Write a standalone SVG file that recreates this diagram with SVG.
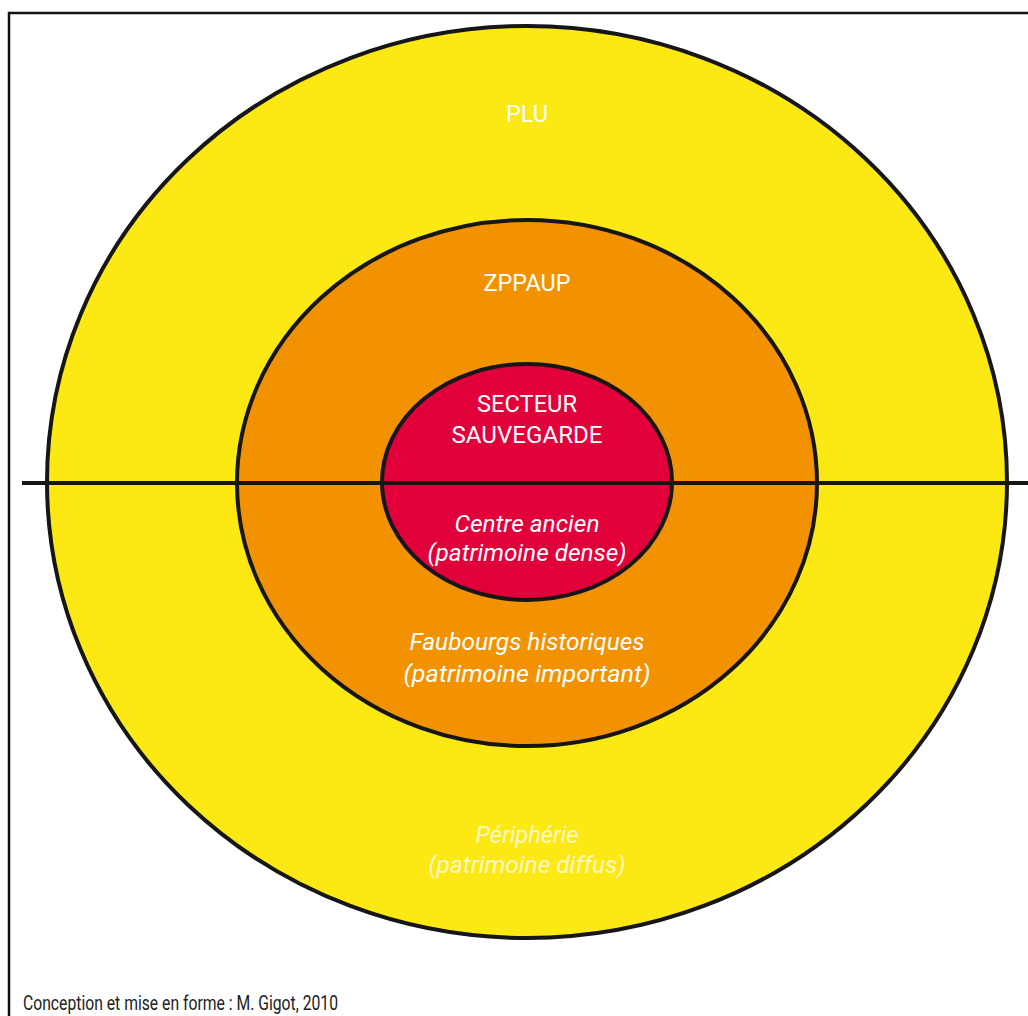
<svg xmlns="http://www.w3.org/2000/svg" width="1028" height="1016" viewBox="0 0 1028 1016">
<style>
.zone{stroke:#161616;stroke-width:4}
.t{font-family:Roboto,"Open Sans","Liberation Sans",sans-serif;fill:#ffffff;text-anchor:middle}
.i{font-style:italic}
.pale{fill:#fff8c4}
</style>
<rect x="0" y="0" width="1028" height="1016" fill="#ffffff"/>
<path d="M9,1016 V13 H1028" fill="none" stroke="#111111" stroke-width="2.5"/>
<g id="plu">
<ellipse class="zone" cx="527" cy="482" rx="480" ry="456" fill="#fce812"/>
<text class="t" x="527" y="122" font-size="24.5" textLength="42" lengthAdjust="spacingAndGlyphs">PLU</text>
<text class="t i pale" x="527" y="843" font-size="23.5" textLength="103" lengthAdjust="spacingAndGlyphs">Périphérie</text>
<text class="t i pale" x="527" y="873" font-size="23.5" textLength="197" lengthAdjust="spacingAndGlyphs">(patrimoine diffus)</text>
</g>
<g id="zppaup">
<ellipse class="zone" cx="527" cy="483" rx="290" ry="263" fill="#f39200"/>
<text class="t" x="527" y="291" font-size="24.5" textLength="87" lengthAdjust="spacingAndGlyphs">ZPPAUP</text>
<text class="t i" x="527" y="650" font-size="23.5" textLength="235" lengthAdjust="spacingAndGlyphs">Faubourgs historiques</text>
<text class="t i" x="527" y="682" font-size="23.5" textLength="247" lengthAdjust="spacingAndGlyphs">(patrimoine important)</text>
</g>
<g id="secteur">
<ellipse class="zone" cx="527" cy="482" rx="145" ry="118" fill="#e2003b"/>
<text class="t" x="527" y="412" font-size="24.5" textLength="100" lengthAdjust="spacingAndGlyphs">SECTEUR</text>
<text class="t" x="527" y="443" font-size="24.5" textLength="151" lengthAdjust="spacingAndGlyphs">SAUVEGARDE</text>
<text class="t i" x="527" y="532" font-size="23.5" textLength="145" lengthAdjust="spacingAndGlyphs">Centre ancien</text>
<text class="t i" x="527" y="561" font-size="23.5" textLength="199" lengthAdjust="spacingAndGlyphs">(patrimoine dense)</text>
</g>
<g id="connectors">
<line x1="22" y1="483" x2="1028" y2="483" stroke="#161616" stroke-width="4"/>
</g>
<text x="23" y="1010" font-family="Roboto,'Open Sans','Liberation Sans',sans-serif" font-size="19.5" fill="#222222" textLength="315" lengthAdjust="spacingAndGlyphs">Conception et mise en forme : M. Gigot, 2010</text>
</svg>
